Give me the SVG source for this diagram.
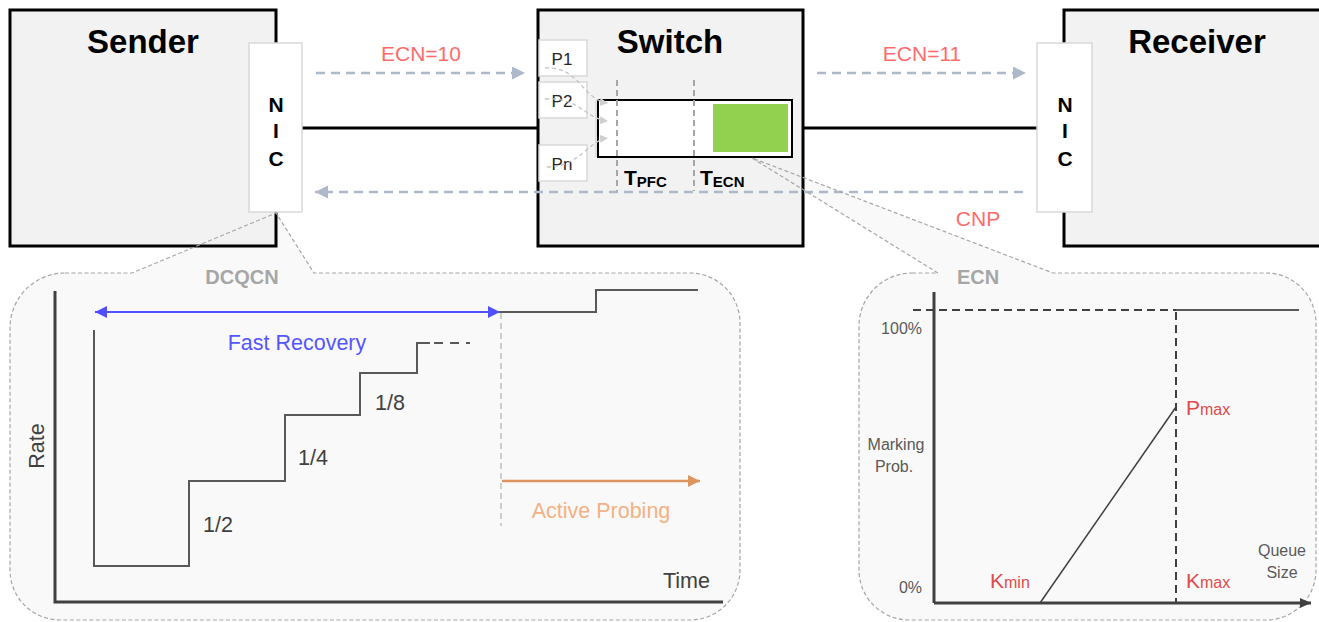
<svg xmlns="http://www.w3.org/2000/svg" width="1319" height="622" viewBox="0 0 1319 622">
  <style>
    .box { fill: #f2f2f2; stroke: #000; stroke-width: 3; }
    .title { font-family: "Liberation Sans", Arial, sans-serif; font-weight: bold; font-size: 33px; fill: #000; text-anchor: middle; }
    .nic { fill: #fff; stroke: #d9d9d9; stroke-width: 1.5; }
    .nict { font-family: "Liberation Sans", Arial, sans-serif; font-weight: bold; font-size: 21px; fill: #000; text-anchor: middle; }
    .link { stroke: #000; stroke-width: 3; fill: none; }
    .sig { stroke: #adb9ca; stroke-width: 2.5; stroke-dasharray: 9 6; fill: none; }
    .sigt { font-family: "Liberation Sans", Arial, sans-serif; font-size: 21px; fill: #ff6b6b; text-anchor: middle; }
    .port { fill: #fff; stroke: #d9d9d9; stroke-width: 1.5; }
    .portt { font-family: "Liberation Sans", Arial, sans-serif; font-size: 17px; fill: #262626; text-anchor: middle; }
    .pcurve { stroke: #c4c4c4; stroke-width: 1.3; stroke-dasharray: 4 3; fill: none; }
    .thr { stroke: #a6a6a6; stroke-width: 2; stroke-dasharray: 6 4; fill: none; }
    .tt { font-family: "Liberation Sans", Arial, sans-serif; font-weight: bold; fill: #000; }
    .callfill { fill: #f9f9f9; stroke: none; }
    .callline { fill: none; stroke: #a6a6a6; stroke-width: 1.2; stroke-dasharray: 4 2.5; }
    .ptitle { font-family: "Liberation Sans", Arial, sans-serif; font-weight: bold; font-size: 20px; fill: #a6a6a6; text-anchor: middle; }
    .axis { stroke: #404040; stroke-width: 3; fill: none; }
    .curve { stroke: #595959; stroke-width: 2; fill: none; }
    .lbl { font-family: "Liberation Sans", Arial, sans-serif; font-size: 21.5px; fill: #404040; }
    .small { font-family: "Liberation Sans", Arial, sans-serif; font-size: 16px; fill: #595959; }
    .red { font-family: "Liberation Sans", Arial, sans-serif; fill: #e04b4b; }
  </style>
  <defs>
    <marker id="ahGray" markerUnits="userSpaceOnUse" markerWidth="14" markerHeight="14" refX="13" refY="6.5" orient="auto">
      <polygon points="0,0 13,6.5 0,13" fill="#adb9ca"/>
    </marker>
    <marker id="ahBlue" markerUnits="userSpaceOnUse" markerWidth="14" markerHeight="14" refX="12" refY="6" orient="auto-start-reverse">
      <polygon points="0,0 12,6 0,12" fill="#5050ff"/>
    </marker>
    <marker id="ahOrange" markerUnits="userSpaceOnUse" markerWidth="14" markerHeight="14" refX="12" refY="6" orient="auto">
      <polygon points="0,0 12,6 0,12" fill="#dd9560"/>
    </marker>
    <marker id="ahPort" markerUnits="userSpaceOnUse" markerWidth="9" markerHeight="9" refX="8" refY="4" orient="auto">
      <polygon points="0,0 8,4 0,8" fill="#cfcfcf"/>
    </marker>
    <marker id="ahAxis" markerUnits="userSpaceOnUse" markerWidth="12" markerHeight="12" refX="11" refY="5" orient="auto">
      <polygon points="0,0 11,5 0,10" fill="#404040"/>
    </marker>
  </defs>

  <!-- callout fills (drawn under the boxes) -->
  <path class="callfill" d="M 65 273 L 132 273 L 276 213 L 314 273 L 690 273 A 50 50 0 0 1 740 323 L 740 570 A 50 50 0 0 1 690 620 L 60 620 A 50 50 0 0 1 10 570 L 10 328 A 55 55 0 0 1 65 273 Z"/>
  <path class="callfill" d="M 912 273 L 938 273 L 752 158 L 1053 273 L 1266 273 A 50 50 0 0 1 1316 323 L 1316 570 A 50 50 0 0 1 1266 620 L 909 620 A 50 50 0 0 1 859 570 L 859 326 A 53 53 0 0 1 912 273 Z"/>

  <!-- sender -->
  <g id="sender">
    <rect class="box" x="10" y="10" width="266" height="236"/>
    <text class="title" x="143" y="53">Sender</text>
  </g>

  <!-- switch -->
  <g id="switch">
    <rect class="box" x="538" y="10" width="265" height="236"/>
    <text class="title" x="670" y="53">Switch</text>
  </g>

  <!-- receiver -->
  <g id="receiver">
    <rect class="box" x="1064" y="10" width="270" height="236"/>
    <text class="title" x="1197" y="53">Receiver</text>
  </g>

  <!-- links and signalling -->
  <g id="connectors">
    <line class="link" x1="302" y1="128" x2="538" y2="128"/>
    <line class="link" x1="803" y1="128" x2="1037" y2="128"/>
    <line class="sig" x1="316" y1="73" x2="525" y2="73" marker-end="url(#ahGray)"/>
    <line class="sig" x1="817" y1="73" x2="1026" y2="73" marker-end="url(#ahGray)"/>
    <line class="sig" x1="1023" y1="192" x2="315" y2="192" marker-end="url(#ahGray)"/>
    <text class="sigt" x="421" y="61">ECN=10</text>
    <text class="sigt" x="922" y="61">ECN=11</text>
    <text class="sigt" x="978" y="226">CNP</text>
  </g>

  <!-- NICs -->
  <g id="sender-nic">
    <rect class="nic" x="249" y="43" width="53" height="169"/>
    <text class="nict" x="276" y="112">N</text>
    <text class="nict" x="276" y="138">I</text>
    <text class="nict" x="276" y="166">C</text>
  </g>
  <g id="receiver-nic">
    <rect class="nic" x="1037" y="43" width="55" height="169"/>
    <text class="nict" x="1065" y="112">N</text>
    <text class="nict" x="1065" y="138">I</text>
    <text class="nict" x="1065" y="166">C</text>
  </g>

  <!-- switch internals: ports, queue, thresholds -->
  <g id="ports">
    <rect class="port" x="539" y="40" width="48" height="36"/>
    <rect class="port" x="539" y="82" width="48" height="36"/>
    <rect class="port" x="539" y="145" width="48" height="36"/>
    <text class="portt" x="562" y="65">P1</text>
    <text class="portt" x="562" y="107">P2</text>
    <text class="portt" x="562" y="170">Pn</text>
  </g>
  <g id="queue">
    <line x1="596" y1="100" x2="596" y2="157" stroke="#cfcfcf" stroke-width="1"/>
    <rect x="598" y="100" width="194" height="57" fill="#fff" stroke="#000" stroke-width="2"/>
    <rect x="713" y="104" width="75" height="48" fill="#92d050"/>
  </g>
  <g id="port-flows">
    <path class="pcurve" d="M 545 68 C 580 66 582 100 608 103" marker-end="url(#ahPort)"/>
    <path class="pcurve" d="M 545 99 C 580 97 585 119 608 121" marker-end="url(#ahPort)"/>
    <path class="pcurve" d="M 547 167 C 582 166 588 140 608 138" marker-end="url(#ahPort)"/>
  </g>
  <g id="thresholds">
    <line class="thr" x1="617" y1="80" x2="617" y2="191"/>
    <line class="thr" x1="694" y1="80" x2="694" y2="191"/>
    <text class="tt" x="624" y="185" font-size="21">T<tspan font-size="15" dy="2">PFC</tspan></text>
    <text class="tt" x="700" y="185" font-size="21">T<tspan font-size="15" dy="2">ECN</tspan></text>
  </g>

  <!-- callout outlines -->
  <path class="callline" d="M 65 273 L 132 273 L 276 213 L 314 273 L 690 273 A 50 50 0 0 1 740 323 L 740 570 A 50 50 0 0 1 690 620 L 60 620 A 50 50 0 0 1 10 570 L 10 328 A 55 55 0 0 1 65 273 Z"/>
  <path class="callline" d="M 912 273 L 938 273 L 752 158 L 1053 273 L 1266 273 A 50 50 0 0 1 1316 323 L 1316 570 A 50 50 0 0 1 1266 620 L 909 620 A 50 50 0 0 1 859 570 L 859 326 A 53 53 0 0 1 912 273 Z"/>

  <!-- DCQCN rate chart -->
  <g id="dcqcn">
    <text class="ptitle" x="242" y="284">DCQCN</text>
    <polyline class="axis" points="55,291 55,602 723,602"/>
    <text class="lbl" transform="translate(44,446) rotate(-90)" text-anchor="middle">Rate</text>
    <text class="lbl" x="663" y="588">Time</text>
    <polyline class="curve" points="94,330 94,566 189,566 189,481 285,481 285,415 360,415 360,373 417,373 417,343 430,343"/>
    <line class="curve" x1="434" y1="343" x2="470" y2="343" stroke-dasharray="9 7"/>
    <polyline class="curve" points="500,312 596,312 596,290 698,290"/>
    <line x1="501" y1="313" x2="501" y2="526" stroke="#bfbfbf" stroke-width="1.5" stroke-dasharray="6 4"/>
    <line x1="95" y1="312" x2="500" y2="312" stroke="#5050ff" stroke-width="2" marker-start="url(#ahBlue)" marker-end="url(#ahBlue)"/>
    <text x="297" y="350" font-family="Liberation Sans, Arial, sans-serif" font-size="21.5" fill="#5555ff" text-anchor="middle">Fast Recovery</text>
    <line x1="502" y1="481" x2="700" y2="481" stroke="#dd9560" stroke-width="2.5" marker-end="url(#ahOrange)"/>
    <text x="601" y="518" font-family="Liberation Sans, Arial, sans-serif" font-size="21.5" fill="#f4b183" text-anchor="middle">Active Probing</text>
    <text class="lbl" x="203" y="532">1/2</text>
    <text class="lbl" x="298" y="465">1/4</text>
    <text class="lbl" x="375" y="410">1/8</text>
  </g>

  <!-- ECN marking chart -->
  <g id="ecn">
    <text class="ptitle" x="978" y="284">ECN</text>
    <line class="axis" x1="934" y1="292" x2="934" y2="603"/>
    <line class="axis" x1="934" y1="603" x2="1311" y2="603" marker-end="url(#ahAxis)"/>
    <line x1="913" y1="310" x2="1176" y2="310" stroke="#404040" stroke-width="2" stroke-dasharray="8 5"/>
    <line x1="1176" y1="310" x2="1299" y2="310" stroke="#595959" stroke-width="2"/>
    <line x1="1176" y1="312" x2="1176" y2="602" stroke="#404040" stroke-width="2" stroke-dasharray="8 5"/>
    <line x1="1040" y1="603" x2="1176" y2="407" stroke="#404040" stroke-width="1.5"/>
    <text class="small" x="922" y="334" text-anchor="end">100%</text>
    <text class="small" x="922" y="593" text-anchor="end">0%</text>
    <text class="small" x="896" y="450" text-anchor="middle">Marking</text>
    <text class="small" x="894" y="472" text-anchor="middle">Prob.</text>
    <text class="small" x="1282" y="556" text-anchor="middle">Queue</text>
    <text class="small" x="1282" y="578" text-anchor="middle">Size</text>
    <text class="red" x="990" y="588" font-size="21">K<tspan font-size="16">min</tspan></text>
    <text class="red" x="1186" y="588" font-size="21">K<tspan font-size="16">max</tspan></text>
    <text class="red" x="1186" y="415" font-size="21">P<tspan font-size="16">max</tspan></text>
  </g>
</svg>
